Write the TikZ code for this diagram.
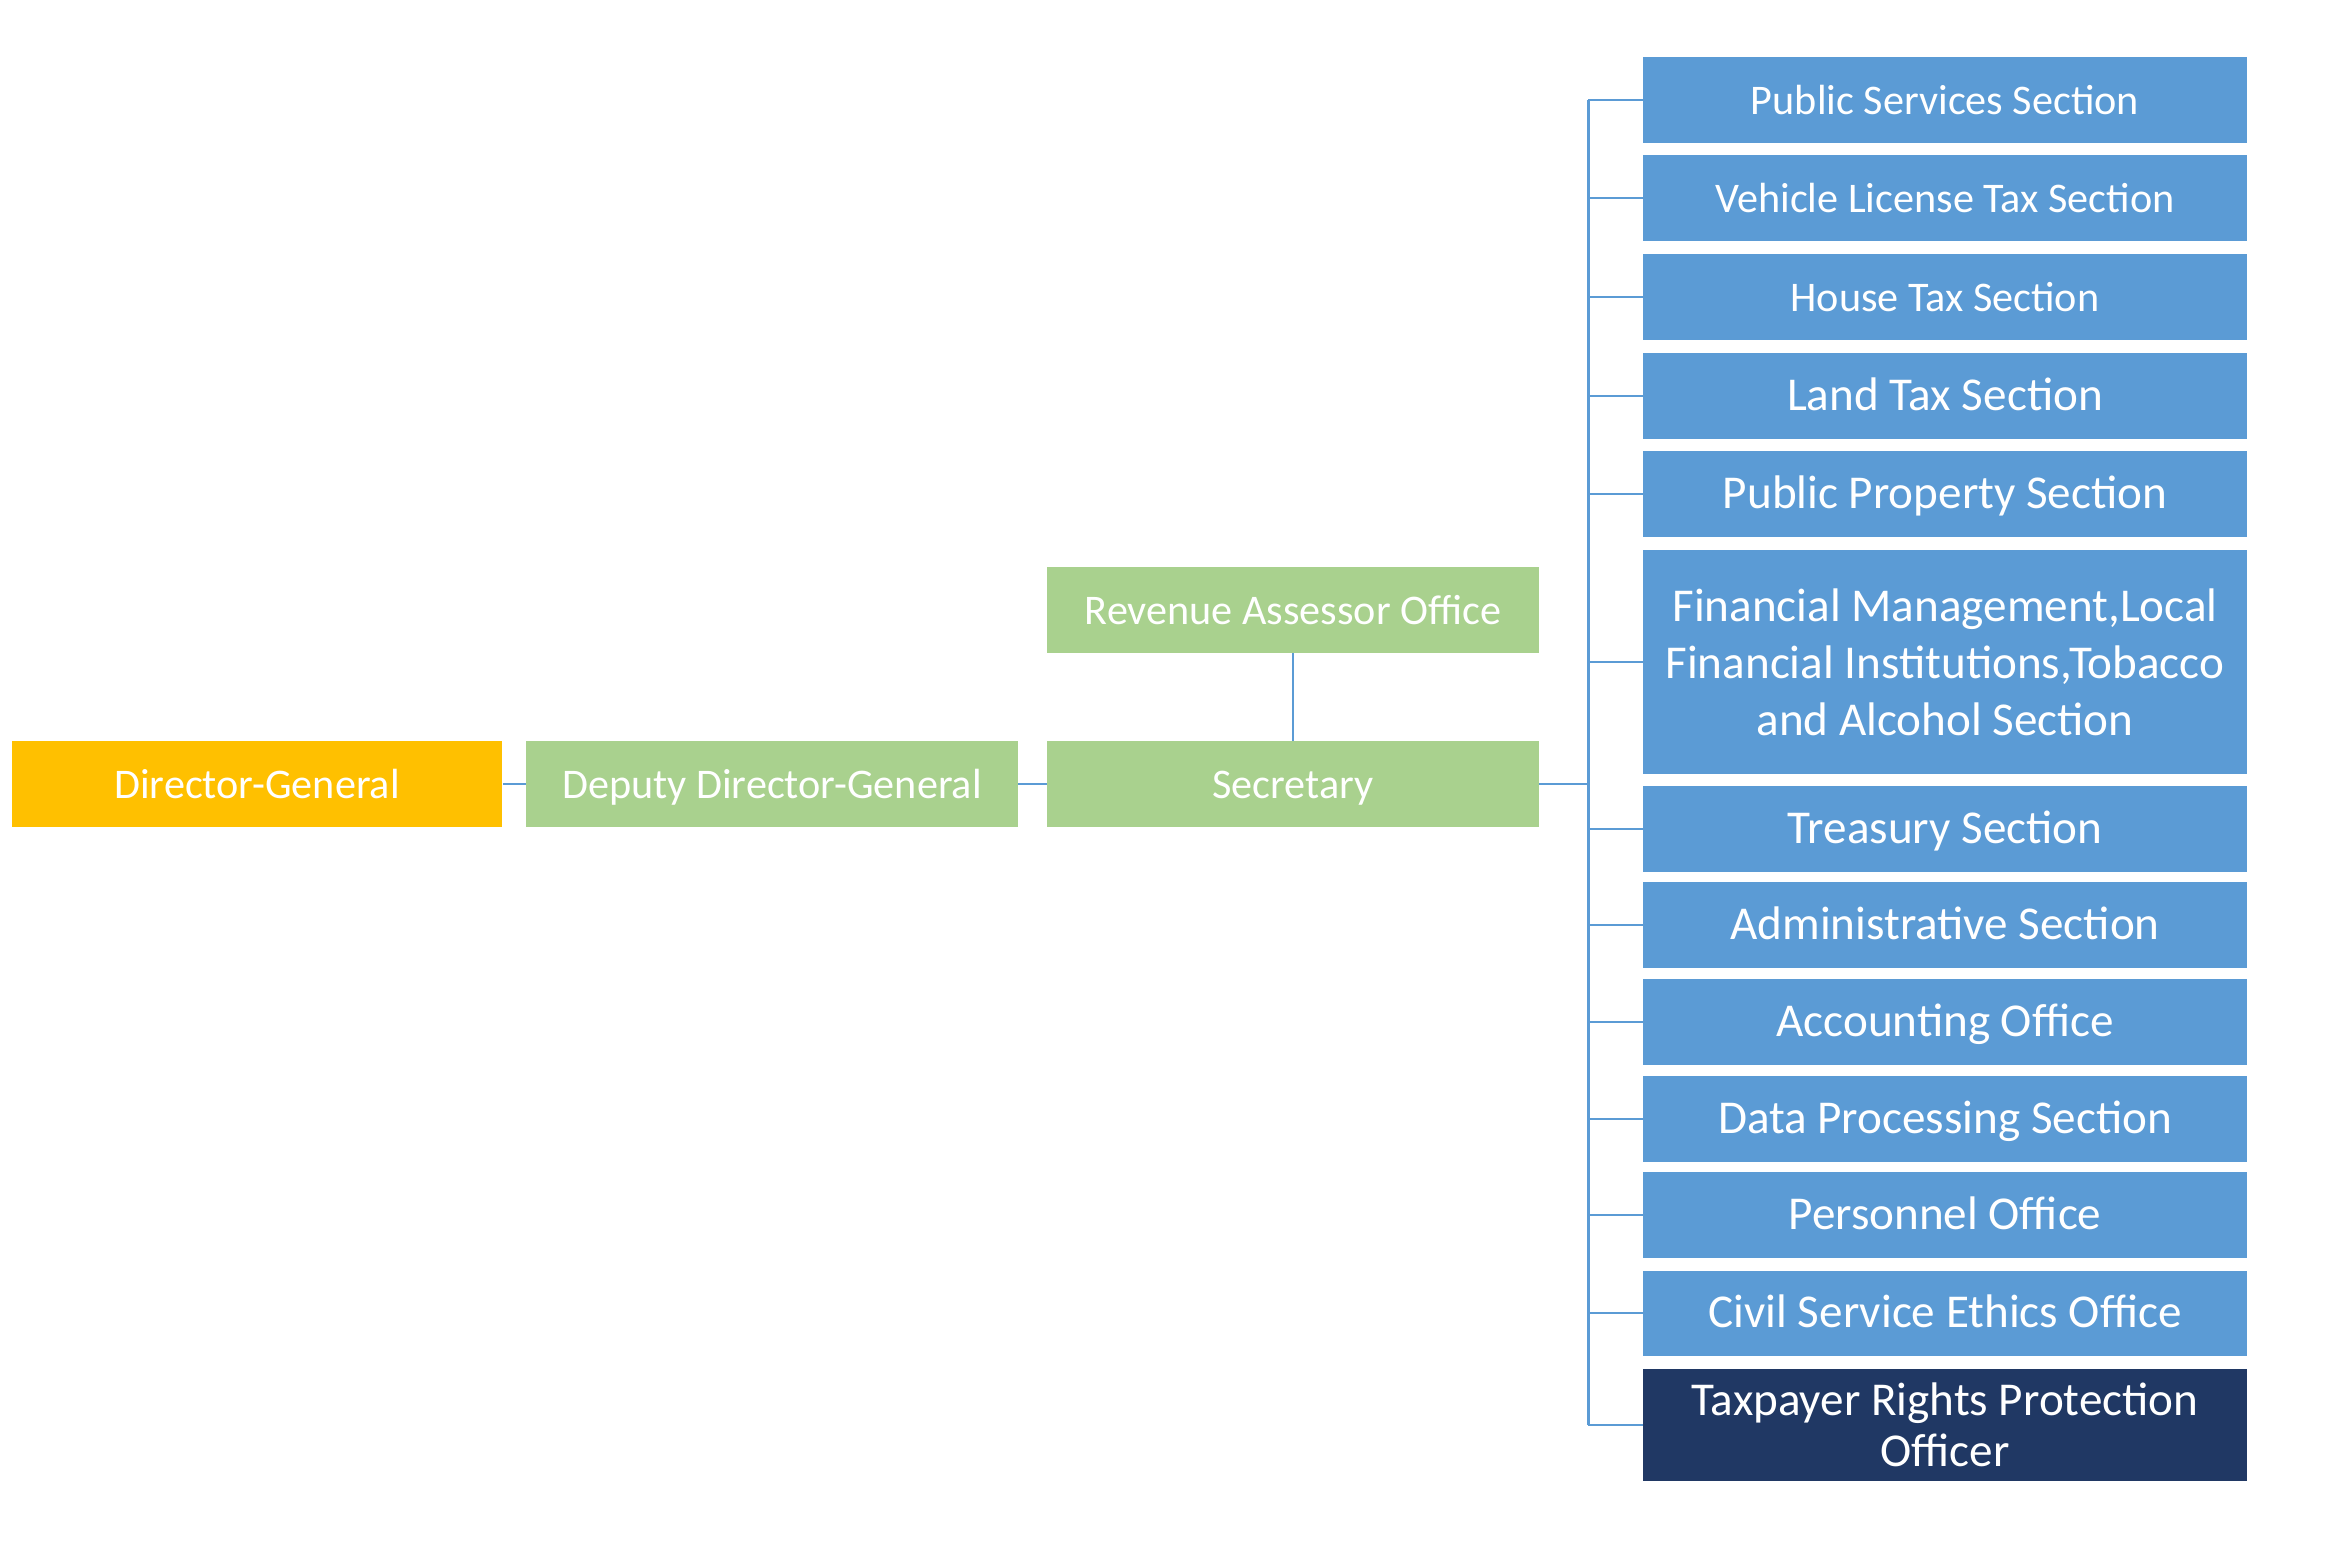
\documentclass[tikz,border=0pt]{standalone}
\usepackage{fontspec}
\setmainfont{Carlito}
\usepackage{tikz}
\definecolor{dgorange}{RGB}{255,192,0}
\definecolor{offgreen}{RGB}{169,209,142}
\definecolor{secblue}{RGB}{91,155,213}
\definecolor{tpnavy}{RGB}{32,56,100}

\begin{document}
\begin{tikzpicture}[x=0.01cm,y=-0.01cm,box/.style={text=white,align=center,inner sep=0pt,minimum height=.85cm,font=\fontsize{12}{14.5}\selectfont},oneline/.style={text height=.8em,text depth=0pt},big/.style={font=\fontsize{13.4}{16.2}\selectfont},office/.style={box,oneline,fill=offgreen,minimum width=4.91cm},section/.style={box,fill=secblue,minimum width=6.03cm},conn/.style={draw=secblue,line width=.75pt}]
\useasboundingbox (0,0) rectangle (2343,1557);

% head and offices
\node[box,oneline,fill=dgorange,minimum width=4.9cm] (dg) at(257,784) {Director-General};
\node[office] (ddg) at(772,784) {Deputy Director-General};
\node[office] (sec) at(1293,784) {Secretary};
\node[office] (rev) at(1293,610) {Revenue Assessor Office};

% sections
\node[section,oneline] (ps) at(1945,100) {Public Services Section};
\node[section,oneline] (vl) at(1945,198) {Vehicle License Tax Section};
\node[section,oneline] (ht) at(1945,297) {House Tax Section};
\node[section,oneline,big] (lt) at(1945,396) {Land Tax Section};
\node[section,oneline,big] (pp) at(1945,494) {Public Property Section};
\node[section,big,minimum height=2.24cm] (fm) at(1945,662) {Financial Management,Local\\Financial Institutions,Tobacco\\and Alcohol Section};
\node[section,oneline,big] (tr) at(1945,829) {Treasury Section};
\node[section,oneline,big] (ad) at(1945,925) {Administrative Section};
\node[section,oneline,big] (ac) at(1945,1022) {Accounting Office};
\node[section,oneline,big] (dp) at(1945,1119) {Data Processing Section};
\node[section,oneline,big] (pe) at(1945,1215) {Personnel Office};
\node[section,oneline,big] (cs) at(1945,1313) {Civil Service Ethics Office};
\node[section,fill=tpnavy,minimum height=1.12cm,font=\fontsize{13.4}{14.6}\selectfont] (tp) at(1945,1425) {Taxpayer Rights Protection\\Officer};

% connectors
\draw[conn] (dg) -- (ddg);
\draw[conn] (ddg) -- (sec);
\draw[conn] (rev) -- (sec);
\draw[conn] (sec.east) -- ++(49,0) coordinate (bus);
\draw[conn] (ps.west -| bus) -- (tp.west -| bus);
\foreach \n in {ps,vl,ht,lt,pp,fm,tr,ad,ac,dp,pe,cs,tp}
  \draw[conn] (\n.west -| bus) -- (\n.west);
\end{tikzpicture}
\end{document}
